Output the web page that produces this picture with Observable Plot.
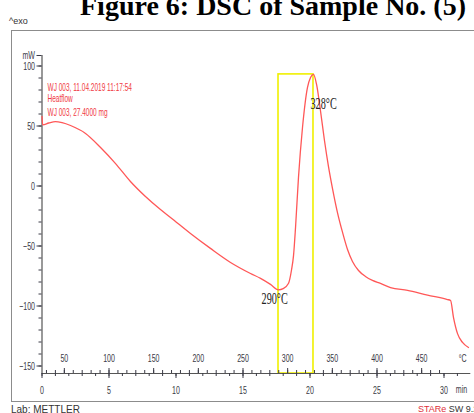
<!DOCTYPE html>
<html>
<head>
<meta charset="utf-8">
<script src="https://cdn.jsdelivr.net/npm/d3@7"></script>
<script src="https://cdn.jsdelivr.net/npm/@observablehq/plot@0.6"></script>
<style>
  body { margin: 0; background: #fff; }
  #wrap { position: relative; width: 474px; height: 413px; overflow: hidden; background: #fff;
          font-family: "Liberation Sans", sans-serif; }
  #title { position: absolute; left: 80px; top: -8px; font: bold 28px/28px "Liberation Serif", serif;
           white-space: nowrap; color: #000; }
  #exo { position: absolute; left: 9px; top: 16px; font-size: 9px; color: #333; }
  #box { position: absolute; left: 11px; top: 30px; width: 480px; height: 370px; border: 1.5px solid #8c8c8c; }
  #lab { position: absolute; left: 11px; top: 404px; font-size: 10px; color: #333; white-space: nowrap; }
  #sw { position: absolute; left: 418px; top: 404px; font-size: 9px; color: #333; white-space: nowrap; }
  #sw span { color: #e0303a; }
  #chart { position: absolute; left: 0; top: 0; }
</style>
</head>
<body>
<div id="wrap">
  <div id="box"></div>
  <div id="title">Figure 6: DSC of Sample No. (5)</div>
  <div id="exo">^exo</div>
  <div id="lab">Lab: METTLER</div>
  <div id="sw"><span>STARe</span> SW 9.20</div>
  <div id="chart"></div>
</div>
<script>
// ---- data ----
const timeMin = [0, 0.05, 0.5, 1.0, 1.5, 2.13, 3.25, 4.37, 5.49, 6.6, 7.72, 8.84, 9.59,
  11.08, 12.57, 14.07, 15.56, 16.31, 17.05, 17.65, 18.0, 18.4, 18.62, 18.77, 18.92, 19.14,
  19.44, 19.81, 20.04, 20.26, 20.49, 20.78, 21.08, 21.38, 21.68, 22.05, 22.43, 22.8, 23.17,
  23.62, 24.14, 24.66, 25.26, 26.01, 27.28, 28.77, 30.26, 30.49, 30.71, 31.01, 31.38, 31.83];
const heatFlowMW = [58, 51, 52.5, 53.7, 52.8, 50.4, 43.8, 32.1, 18.7, 3.75, -8.75, -19.6, -26.2,
  -39.6, -52, -63.7, -72.9, -77, -82, -86.5, -85.5, -81, -70, -58, -34.6, 7,
  48.7, 82, 90.4, 93, 84.6, 62.9, 37.9, 16.2, -2.1, -22.1, -38.7, -52.9, -62.9,
  -70.4, -75.4, -78.7, -81.2, -84.6, -87, -91, -94.6, -95.4, -109.6, -123, -130.4, -134.6];

const yMajorTicks = [-150, -100, -50, 0, 50, 100];
const yMinorTicks = [-150, -140, -130, -120, -110, -100, -90, -80, -70, -60, -50, -40, -30, -20, -10,
  0, 10, 20, 30, 40, 50, 60, 70, 80, 90, 100];
const timeMajorTicks = [0, 5, 10, 15, 20, 25, 30];
const timeMinorTicks = d3.range(0, 32, 1);
const tempLabels = [50, 100, 150, 200, 250, 300, 350, 400, 450];
const tempMinorTicks = d3.range(30, 480, 10);
const startTempC = 25;     // °C at t = 0
const heatingRate = 15;    // K/min
const annotLines = ["WJ 003, 11.04.2019 11:17:54", "Heatflow", "WJ 003, 27.4000 mg"];
const peakLabel = "328°C";
const minLabel = "290°C";
const yDomain = [-156.25, 108.75];
const xDomain = [0, 32];

// ---- build ----
const data = timeMin.map((t, i) => ({t, v: heatFlowMW[i]}));
const tOf = T => (T - startTempC) / heatingRate;
const iPeak = d3.maxIndex(heatFlowMW);
const iMin = d3.minIndex(heatFlowMW.slice(0, iPeak));
const peak = data[iPeak], valley = data[iMin];

const W = 474, H = 413, mT = 55, mB = 40;
const frameH = H - mT - mB;
const axisColor = "#3a3a46";
const curveColor = "#ff5757";
const annotColor = "#f03a44";
const serif = "'Liberation Serif', serif";

const chart = Plot.plot({
  width: W, height: H,
  marginLeft: 41.5, marginRight: 3.7, marginTop: mT, marginBottom: mB,
  x: {domain: xDomain},
  y: {domain: yDomain},
  style: {background: "transparent", overflow: "visible", fontFamily: "'Liberation Sans', sans-serif", fontSize: "11px"},
  marks: [
    // yellow box from onset minimum to peak
    Plot.rect([0], {x1: valley.t, x2: peak.t, y1: yDomain[0], y2: peak.v,
      fill: "none", stroke: "#f0f000", strokeWidth: 1.6}),
    // axis lines
    Plot.ruleX([xDomain[0]], {stroke: "#555", strokeWidth: 1.2}),
    Plot.ruleY([yDomain[0]], {stroke: "#555", strokeWidth: 1.2}),
    // y axis
    Plot.axisY(yMinorTicks, {tickSize: 3, tickFormat: () => "", label: null, color: axisColor}),
    Plot.axisY(yMajorTicks, {tickSize: 5, tickPadding: 2, fontSize: 11, label: null, color: axisColor}),
    Plot.axisY([yDomain[1]], {tickSize: 5, tickPadding: 2, fontSize: 11, tickFormat: () => "mW", label: null, color: axisColor}),
    // time axis (below)
    Plot.axisX(timeMinorTicks, {tickSize: 3, tickFormat: () => "", label: null, color: axisColor}),
    Plot.axisX(timeMajorTicks, {tickSize: 5, tickPadding: 8, fontSize: 11, label: null, color: axisColor}),
    Plot.text(["min"], {frameAnchor: "bottom-right", dx: -15, dy: 19, textAnchor: "start", fontSize: 11, fill: axisColor}),
    // temperature scale (above the axis line)
    Plot.tickX(tempMinorTicks, {x: tOf, insetTop: frameH - 3, stroke: axisColor}),
    Plot.tickX(tempLabels, {x: tOf, insetTop: frameH - 5, stroke: axisColor}),
    Plot.text(tempLabels, {x: tOf, frameAnchor: "bottom", dy: -12, text: d => String(d), fontSize: 11, fill: axisColor}),
    Plot.text(["°C"], {frameAnchor: "bottom-right", dx: -12, dy: -12, textAnchor: "start", fontSize: 11, fill: axisColor}),
    // curve
    Plot.line(data, {x: "t", y: "v", stroke: curveColor, strokeWidth: 1.3, curve: "monotone-x"}),
    // annotations
    Plot.text([annotLines[0]], {frameAnchor: "top-left", dx: 5.5, dy: 28, textAnchor: "start", fontSize: 10.5, fill: annotColor}),
    Plot.text([annotLines[1]], {frameAnchor: "top-left", dx: 5.5, dy: 39.5, textAnchor: "start", fontSize: 10.5, fill: annotColor}),
    Plot.text([annotLines[2]], {frameAnchor: "top-left", dx: 5.5, dy: 53, textAnchor: "start", fontSize: 10.5, fill: annotColor}),
    Plot.text([peak], {x: "t", y: "v", text: () => peakLabel, dx: -3, dy: 29, textAnchor: "start",
      fontFamily: serif, fontSize: 16, fill: "#222"}),
    Plot.text([valley], {x: "t", y: "v", text: () => minLabel, dx: -17, dy: 9, textAnchor: "start",
      fontFamily: serif, fontSize: 16, fill: "#222"})
  ]
});
document.getElementById("chart").appendChild(chart);

// the reference picture is horizontally compressed: narrow the glyphs to match
chart.querySelectorAll("text").forEach(el => {
  const len = el.getComputedTextLength();
  if (!(len > 0)) return;
  const k = annotLines.includes(el.textContent) ? 0.62 : 0.64;
  el.setAttribute("textLength", (len * k).toFixed(2));
  el.setAttribute("lengthAdjust", "spacingAndGlyphs");
});
</script>
</body>
</html>
